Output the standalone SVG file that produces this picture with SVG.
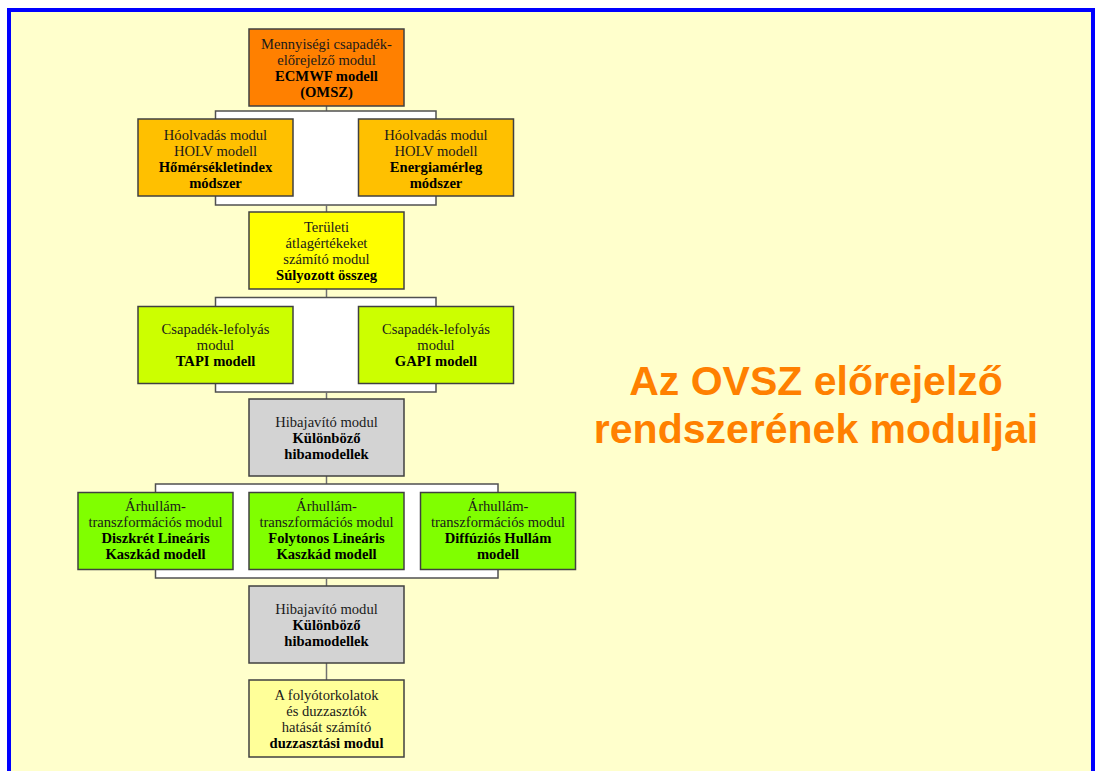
<svg xmlns="http://www.w3.org/2000/svg" width="1105" height="771" viewBox="0 0 1105 771">
<style>
.box{stroke:#404040;stroke-width:1.5}
.br{fill:#ffffff;stroke:#505050;stroke-width:1.5}
.stem{stroke:#707070;stroke-width:1.5;fill:none}
text{font-family:"Liberation Serif","Times New Roman",serif;font-size:14.6px;fill:#1a1a1a;text-anchor:middle}
.b{font-weight:bold;fill:#000}
.title{font-family:"Liberation Sans",Arial,sans-serif;font-size:41px;font-weight:bold;fill:#FF8000}
</style>
<rect x="0" y="0" width="1105" height="771" fill="#ffffff"/>
<rect x="9" y="10" width="1084" height="780" fill="#FFFFCC" stroke="#0000FF" stroke-width="4"/>
<g id="connectors">
<line class="stem" x1="326.5" y1="106" x2="326.5" y2="111"/>
<rect class="br" x="215.5" y="111" width="220.5" height="94"/>
<line class="stem" x1="326.5" y1="205" x2="326.5" y2="212"/>
<line class="stem" x1="326.5" y1="289" x2="326.5" y2="297.5"/>
<rect class="br" x="215.5" y="297.5" width="220.5" height="94.5"/>
<line class="stem" x1="326.5" y1="392" x2="326.5" y2="399"/>
<line class="stem" x1="326.5" y1="476" x2="326.5" y2="484"/>
<rect class="br" x="155.5" y="484" width="342.5" height="94"/>
<line class="stem" x1="326.5" y1="578" x2="326.5" y2="586"/>
<line class="stem" x1="326.5" y1="663" x2="326.5" y2="680"/>
</g>
<g id="node-ecmwf">
<rect class="box" x="249" y="29" width="155" height="77" fill="#FF8000"/>
<text x="326.5" y="48.5">Mennyiségi csapadék-</text>
<text x="326.5" y="64.5">előrejelző modul</text>
<text class="b" x="326.5" y="80.5">ECMWF modell</text>
<text class="b" x="326.5" y="96.5">(OMSZ)</text>
</g>
<g id="node-holv-homerseklet">
<rect class="box" x="138" y="119" width="155" height="77" fill="#FFC000"/>
<text x="215.5" y="139.5">Hóolvadás modul</text>
<text x="215.5" y="155.5">HOLV modell</text>
<text class="b" x="215.5" y="171.5">Hőmérsékletindex</text>
<text class="b" x="215.5" y="187.5">módszer</text>
</g>
<g id="node-holv-energia">
<rect class="box" x="358.5" y="119" width="155" height="77" fill="#FFC000"/>
<text x="436" y="139.5">Hóolvadás modul</text>
<text x="436" y="155.5">HOLV modell</text>
<text class="b" x="436" y="171.5">Energiamérleg</text>
<text class="b" x="436" y="187.5">módszer</text>
</g>
<g id="node-teruleti">
<rect class="box" x="249" y="212" width="155" height="77" fill="#FFFF00"/>
<text x="326.5" y="231.5">Területi</text>
<text x="326.5" y="247.5">átlagértékeket</text>
<text x="326.5" y="263.5">számító modul</text>
<text class="b" x="326.5" y="279.5">Súlyozott összeg</text>
</g>
<g id="node-tapi">
<rect class="box" x="138" y="306.5" width="155" height="77" fill="#CCFF00"/>
<text x="215.5" y="333.5">Csapadék-lefolyás</text>
<text x="215.5" y="349.5">modul</text>
<text class="b" x="215.5" y="365.5">TAPI modell</text>
</g>
<g id="node-gapi">
<rect class="box" x="358.5" y="306.5" width="155" height="77" fill="#CCFF00"/>
<text x="436" y="333.5">Csapadék-lefolyás</text>
<text x="436" y="349.5">modul</text>
<text class="b" x="436" y="365.5">GAPI modell</text>
</g>
<g id="node-hiba1">
<rect class="box" x="249" y="399" width="155" height="77" fill="#D3D3D3"/>
<text x="326.5" y="426.5">Hibajavító modul</text>
<text class="b" x="326.5" y="442.5">Különböző</text>
<text class="b" x="326.5" y="458.5">hibamodellek</text>
</g>
<g id="node-dlkm">
<rect class="box" x="78" y="492.5" width="155" height="77" fill="#80FF00"/>
<text x="155.5" y="511">Árhullám-</text>
<text x="155.5" y="527">transzformációs modul</text>
<text class="b" x="155.5" y="543">Diszkrét Lineáris</text>
<text class="b" x="155.5" y="559">Kaszkád modell</text>
</g>
<g id="node-flkm">
<rect class="box" x="249" y="492.5" width="155" height="77" fill="#80FF00"/>
<text x="326.5" y="511">Árhullám-</text>
<text x="326.5" y="527">transzformációs modul</text>
<text class="b" x="326.5" y="543">Folytonos Lineáris</text>
<text class="b" x="326.5" y="559">Kaszkád modell</text>
</g>
<g id="node-diffuzios">
<rect class="box" x="420.5" y="492.5" width="155" height="77" fill="#80FF00"/>
<text x="498" y="511">Árhullám-</text>
<text x="498" y="527">transzformációs modul</text>
<text class="b" x="498" y="543">Diffúziós Hullám</text>
<text class="b" x="498" y="559">modell</text>
</g>
<g id="node-hiba2">
<rect class="box" x="249" y="586" width="155" height="77" fill="#D3D3D3"/>
<text x="326.5" y="613.5">Hibajavító modul</text>
<text class="b" x="326.5" y="629.5">Különböző</text>
<text class="b" x="326.5" y="645.5">hibamodellek</text>
</g>
<g id="node-duzzasztasi">
<rect class="box" x="249" y="680" width="155" height="77" fill="#FFFF99"/>
<text x="326.5" y="699.5">A folyótorkolatok</text>
<text x="326.5" y="715.5">és duzzasztók</text>
<text x="326.5" y="731.5">hatását számító</text>
<text class="b" x="326.5" y="747.5">duzzasztási modul</text>
</g>
<g id="title">
<text class="title" x="816" y="395">Az OVSZ előrejelző</text>
<text class="title" x="816" y="443">rendszerének moduljai</text>
</g>
</svg>
